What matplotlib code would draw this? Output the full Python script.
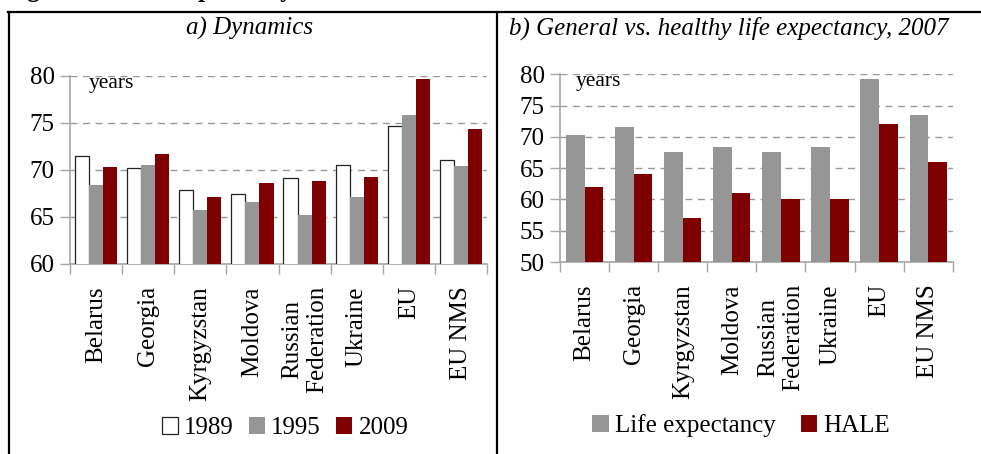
import numpy as np
import matplotlib
matplotlib.use("Agg")
import matplotlib.pyplot as plt
from matplotlib.lines import Line2D
from matplotlib.patches import Patch

plt.rcParams['font.family'] = ['Liberation Serif', 'DejaVu Serif']

# data
countries = ["Belarus", "Georgia", "Kyrgyzstan", "Moldova", "Russian\nFederation",
             "Ukraine", "EU", "EU NMS"]
le_1989 = [71.5, 70.2, 67.9, 67.4, 69.1, 70.5, 74.7, 71.0]
le_1995 = [68.4, 70.5, 65.7, 66.6, 65.2, 67.1, 75.8, 70.4]
le_2009 = [70.3, 71.7, 67.1, 68.6, 68.8, 69.2, 79.6, 74.3]
le_2007 = [70.3, 71.6, 67.6, 68.4, 67.6, 68.4, 79.3, 73.5]
hale_2007 = [62, 64, 57, 61, 60, 60, 72, 66]

GRAY = "#969696"
RED = "#7f0000"
AX = "#a6a6a6"
FS = 18

W, H = 981, 454
fig = plt.figure(figsize=(W / 100, H / 100), dpi=100)


def px_axes(left, top, right, bottom):
    return fig.add_axes([left / W, 1 - bottom / H, (right - left) / W, (bottom - top) / H])


def style(ax, ymin, ymax, yx):
    n = len(countries)
    x = np.arange(n)
    ax.set_xlim(-0.5, n - 0.5)
    ax.set_ylim(ymin, ymax)
    ax.set_yticks(np.arange(ymin, ymax + 1, 5))
    ax.set_xticks(x)
    ax.set_xticklabels(countries, rotation=90, ha='center', va='top',
                       multialignment='center')
    ax.set_xticks(np.arange(-0.5, n, 1), minor=True)
    ax.tick_params(axis='x', which='major', length=0, pad=16, labelsize=FS)
    ax.tick_params(axis='x', which='minor', length=7, color=AX, width=1)
    ax.tick_params(axis='y', length=7, color=AX, width=1, labelsize=FS, pad=4)
    for s in ['top', 'right']:
        ax.spines[s].set_visible(False)
    for s in ['left', 'bottom']:
        ax.spines[s].set_color(AX)
        ax.spines[s].set_linewidth(1.2)
    ax.yaxis.grid(True, color='#999999', linestyle=(0, (5, 4)), linewidth=1)
    ax.set_axisbelow(True)
    ax.text(yx, 0.96, "years", transform=ax.transAxes, fontsize=15.5,
            ha='left', va='center')


x = np.arange(len(countries))

# panel a
ax1 = px_axes(70, 75.7, 487, 264)
bw = 0.27
ax1.bar(x - bw, le_1989, bw, color='white', edgecolor='#222222', linewidth=0.9, zorder=3)
ax1.bar(x, le_1995, bw, color=GRAY, zorder=3)
ax1.bar(x + bw, le_2009, bw, color=RED, zorder=3)
style(ax1, 60, 80, 0.045)

# panel b
ax2 = px_axes(560, 74.3, 952.7, 262)
bw2 = 0.38
ax2.bar(x - bw2 / 2, le_2007, bw2, color=GRAY, zorder=3)
ax2.bar(x + bw2 / 2, hale_2007, bw2, color=RED, zorder=3)
style(ax2, 50, 80, 0.04)

# titles
fig.text(250 / W, 1 - 28 / H, "a) Dynamics", style='italic', fontsize=FS,
         ha='center', va='center')
fig.text(509 / W, 1 - 28 / H, "b) General vs. healthy life expectancy, 2007",
         style='italic', fontsize=FS, ha='left', va='center')
fig.text(5 / W, 1 + 3 / H, "Figure 3.1. Life expectancy", fontweight='bold',
         fontsize=FS, ha='left', va='baseline')

# legends
leg_kw = dict(loc='center', ncol=3, frameon=False, fontsize=FS, handlelength=0.65,
              handleheight=0.65, handletextpad=0.25, columnspacing=0.6,
              borderpad=0, borderaxespad=0)
fig.legend([Patch(facecolor='white', edgecolor='#222222', linewidth=0.9),
            Patch(facecolor=GRAY), Patch(facecolor=RED)],
           ["1989", "1995", "2009"], bbox_to_anchor=(285 / W, 1 - 428 / H), **leg_kw)
leg_kw['ncol'] = 2
leg_kw['columnspacing'] = 1.0
fig.legend([Patch(facecolor=GRAY), Patch(facecolor=RED)],
           ["Life expectancy", "HALE"], bbox_to_anchor=(741 / W, 1 - 426 / H), **leg_kw)

# frame lines
fig.add_artist(Line2D([8 / W, 1], [1 - 11.5 / H, 1 - 11.5 / H], color='black',
                      linewidth=1.6, transform=fig.transFigure))
fig.add_artist(Line2D([8.5 / W, 8.5 / W], [0, 1 - 11.5 / H], color='black',
                      linewidth=1.6, transform=fig.transFigure))
fig.add_artist(Line2D([497 / W, 497 / W], [0, 1 - 11.5 / H], color='black',
                      linewidth=1.6, transform=fig.transFigure))

fig.savefig("out.png", dpi=100)
